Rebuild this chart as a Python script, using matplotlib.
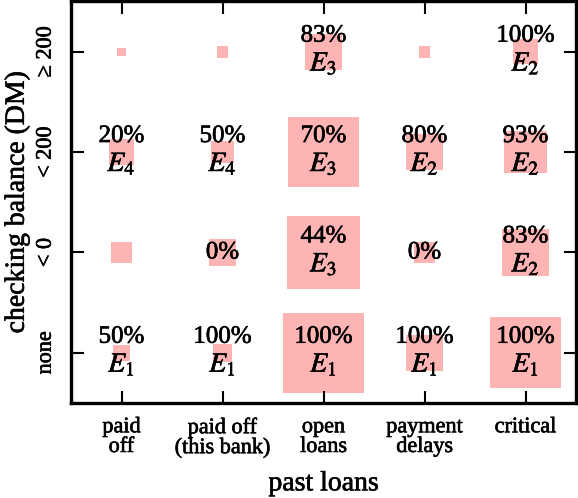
import numpy as np
import matplotlib
matplotlib.use('Agg')
import matplotlib.pyplot as plt
import matplotlib.patheffects as pe
from matplotlib.patches import Rectangle

plt.rcParams['font.family'] = ['Liberation Serif', 'DejaVu Serif']
plt.rcParams['mathtext.fontset'] = 'stix'

# past loans (x) and checking balance (y, bottom to top)
loans = ['paid\noff', 'paid off\n(this bank)', 'open\nloans', 'payment\ndelays', 'critical']
balance = ['none', '< 0', '< 200', '\u2265 200']

# number of cases per cell, rows = balance, cols = loans
counts = [
    [8, 10, 187, 39, 150],
    [14, 22, 158, 13, 66],
    [19, 15, 143, 38, 54],
    [2, 4, 39, 4, 19],
]
# percentage label per cell (None = no label)
pct = [
    ['50%', '100%', '100%', '100%', '100%'],
    [None, '0%', '44%', '0%', '83%'],
    ['20%', '50%', '70%', '80%', '93%'],
    [None, None, '83%', None, '100%'],
]
# expert index per cell (0 = none)
expert = [
    [1, 1, 1, 1, 1],
    [0, 0, 3, 0, 2],
    [4, 4, 3, 2, 2],
    [0, 0, 3, 0, 2],
]

scale = 0.058  # side length per sqrt(count)
pink = '#ffb4b4'
heavy = [pe.withStroke(linewidth=0.45, foreground='black')]

fig = plt.figure(figsize=(5.78, 4.98), dpi=100)
ax = fig.add_axes([71/578, 95/498, 505/578, 401.5/498])

for r in range(len(balance)):
    for c in range(len(loans)):
        s = scale*np.sqrt(counts[r][c])
        ax.add_patch(Rectangle((c - s/2, r - s/2), s, s, color=pink, lw=0))
        p = pct[r][c]
        e = expert[r][c]
        if p is not None and e > 0:
            ax.text(c, r + 0.10, p, ha='center', va='baseline', fontsize=18, path_effects=heavy)
            ax.text(c, r - 0.19, '$E_{%d}$' % e, ha='center', va='baseline', fontsize=20, path_effects=heavy)
        elif p is not None:
            ax.text(c, r - 0.06, p, ha='center', va='baseline', fontsize=18, path_effects=heavy)

ax.set_xlim(-0.5, len(loans) - 0.5)
ax.set_ylim(-0.5, len(balance) - 0.5)
ax.set_xticks(range(len(loans)))
ax.set_xticklabels(loans, fontsize=16, linespacing=1.05)
ax.set_yticks(range(len(balance)))
ax.set_yticklabels(balance, fontsize=16, rotation=90, va='center')
for t in ax.get_xticklabels() + ax.get_yticklabels():
    t.set_path_effects(heavy)
ax.tick_params(direction='in', length=9, width=1.5, top=True, right=True)
ax.tick_params(axis='x', pad=11)
ax.tick_params(axis='y', pad=11)
for sp in ax.spines.values():
    sp.set_linewidth(2.4)

ax.set_xlabel('past loans', fontsize=20, labelpad=9.5, path_effects=heavy)
ax.set_ylabel('checking balance (DM)', fontsize=20, labelpad=5, path_effects=heavy)

fig.savefig('out.png', dpi=100)
